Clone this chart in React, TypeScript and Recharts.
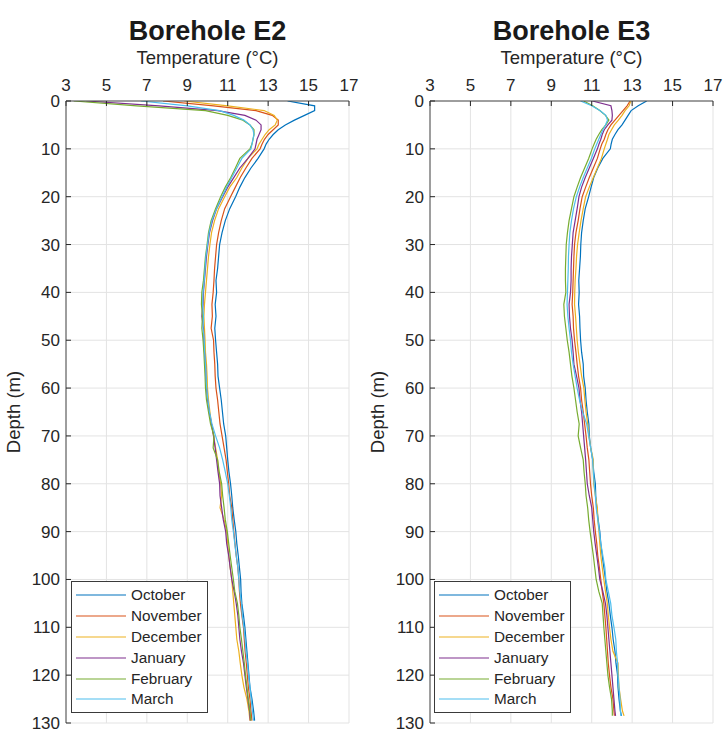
import { LineChart, Line, XAxis, YAxis, CartesianGrid, Legend } from "recharts";

const FONT = '"Liberation Sans", Arial, Helvetica, sans-serif';
const TEXT = "#262626";
const GRID = "#e3e3e3";

const months = ["October", "November", "December", "January", "February", "March"];
const colors = ["#0072BD", "#D95319", "#EDB120", "#7E2F8E", "#77AC30", "#4DBEEE"];
const tempTicks = [3, 5, 7, 9, 11, 13, 15, 17];
const depthTicks = [0, 10, 20, 30, 40, 50, 60, 70, 80, 90, 100, 110, 120, 130];

// depth (m) of each reading
const depthE2 = [
  0, 1, 2, 3, 4, 5, 6, 7, 8, 9, 10,
  12, 14, 16, 18, 20,
  22.5, 25, 27.5, 30, 32.5, 35, 37.5, 40, 42.5, 45, 47.5,
  50, 52.5, 55, 57.5, 60, 62.5, 65, 67.5, 70, 72.5, 75,
  77.5, 80, 82.5, 85, 87.5, 90, 92.5, 95, 97.5, 100, 102.5,
  105, 107.5, 110, 112.5, 115, 117.5, 120, 122.5, 125, 127.5,
  129.5,
];
const depthE3 = [
  0, 1, 2, 3, 4, 5, 6, 7, 8, 9, 10,
  12, 14, 16, 18, 20,
  22.5, 25, 27.5, 30, 32.5, 35, 37.5, 40, 42.5, 45, 47.5,
  50, 52.5, 55, 57.5, 60, 62.5, 65, 67.5, 70, 72.5, 75,
  77.5, 80, 82.5, 85, 87.5, 90, 92.5, 95, 97.5, 100, 102.5,
  105, 107.5, 110, 112.5, 115, 117.5, 120, 122.5, 125, 127.5,
  128.5,
];

// Borehole E2 temperatures (°C)
const e2Oct = [
  13.96, 15.3, 15.3, 14.8, 14.3, 13.85, 13.5, 13.25, 13.05, 12.9, 12.8,
  12.5, 12.15, 11.85, 11.6, 11.39,
  11.1, 10.88, 10.72, 10.6, 10.55, 10.5, 10.42, 10.45, 10.38, 10.42, 10.36,
  10.4, 10.45, 10.5, 10.52, 10.6, 10.68, 10.74, 10.8, 10.9, 10.95, 11.0,
  11.06, 11.14, 11.2, 11.25, 11.32, 11.4, 11.45, 11.52, 11.58, 11.64, 11.66,
  11.7, 11.78, 11.85, 11.9, 11.95, 12.0, 12.05, 12.1, 12.2, 12.28,
  12.33,
];
const e2Nov = [
  7.8, 10.3, 12.4, 13.2, 13.5, 13.5, 13.25, 13.0, 12.82, 12.7, 12.6,
  12.2, 11.9, 11.62, 11.38, 11.14,
  10.85, 10.68, 10.55, 10.45, 10.4, 10.35, 10.32, 10.28, 10.22, 10.24, 10.18,
  10.3, 10.32, 10.36, 10.38, 10.42, 10.5, 10.56, 10.62, 10.72, 10.82, 10.92,
  10.98, 11.05, 11.1, 11.2, 11.25, 11.3, 11.36, 11.42, 11.5, 11.55, 11.58,
  11.63, 11.7, 11.78, 11.82, 11.86, 11.92, 11.97, 12.02, 12.1, 12.15,
  12.2,
];
const e2Dec = [
  8.85, 11.0, 12.8, 13.3, 13.45, 13.35, 13.05, 12.85, 12.7, 12.55, 12.45,
  12.0, 11.7, 11.45, 11.1, 10.85,
  10.55, 10.35, 10.2, 10.12, 10.05, 10.0, 9.95, 9.9, 9.85, 9.82, 9.85,
  9.88, 9.9, 9.95, 9.98, 10.0, 10.05, 10.12, 10.2, 10.3, 10.4, 10.5,
  10.55, 10.65, 10.7, 10.62, 10.82, 10.95, 11.0, 11.05, 11.12, 11.2, 11.25,
  11.3, 11.35, 11.4, 11.45, 11.55, 11.62, 11.7, 11.8, 11.95, 12.05,
  12.1,
];
const e2Jan = [
  4.0, 7.6, 10.5, 11.85, 12.4, 12.65, 12.65, 12.55, 12.45, 12.4, 12.35,
  12.0, 11.6, 11.3, 11.0, 10.75,
  10.45, 10.25, 10.1, 10.02, 9.95, 9.9, 9.85, 9.8, 9.78, 9.72, 9.8,
  9.82, 9.85, 9.9, 9.92, 9.95, 10.0, 10.08, 10.2, 10.3, 10.38, 10.45,
  10.52, 10.6, 10.62, 10.7, 10.78, 10.9, 10.95, 11.05, 11.12, 11.2, 11.32,
  11.42, 11.5, 11.55, 11.6, 11.68, 11.78, 11.85, 11.92, 12.0, 12.08,
  12.12,
];
const e2Feb = [
  3.38, 6.5, 9.9, 11.0, 11.75, 12.1, 12.3, 12.3, 12.25, 12.2, 12.1,
  11.6, 11.38, 11.15, 10.88, 10.65,
  10.4, 10.18, 10.05, 9.98, 9.9, 9.85, 9.8, 9.72, 9.7, 9.75, 9.72,
  9.78, 9.82, 9.85, 9.88, 9.9, 9.95, 10.05, 10.15, 10.32, 10.28, 10.5,
  10.58, 10.7, 10.75, 10.82, 10.88, 10.98, 11.05, 11.12, 11.2, 11.28, 11.35,
  11.48, 11.55, 11.6, 11.68, 11.75, 11.82, 11.88, 11.95, 12.02, 12.1,
  12.15,
];
const e2Mar = [
  6.7, 9.0, 10.6, 11.3, 11.8, 12.1, 12.25, 12.3, 12.25, 12.2, 12.15,
  11.7, 11.45, 11.2, 10.95, 10.72,
  10.45, 10.22, 10.08, 10.0, 9.92, 9.88, 9.84, 9.78, 9.76, 9.8, 9.78,
  9.84, 9.86, 9.9, 9.93, 9.96, 10.02, 10.1, 10.22, 10.4, 10.6, 10.75,
  10.88, 11.0, 11.08, 11.15, 11.2, 11.28, 11.35, 11.42, 11.5, 11.55, 11.6,
  11.68, 11.72, 11.8, 11.86, 11.9, 11.98, 12.03, 12.1, 12.16, 12.22,
  12.28,
];

// Borehole E3 temperatures (°C)
const e3Oct = [
  13.72, 13.3, 12.95, 12.8, 12.65, 12.5, 12.3, 12.15, 12.02, 11.96, 11.92,
  11.55, 11.3, 11.1, 10.97, 10.85,
  10.68, 10.58, 10.5, 10.46, 10.44, 10.4, 10.36, 10.38, 10.35, 10.4, 10.42,
  10.45, 10.5, 10.58, 10.6, 10.68, 10.72, 10.78, 10.86, 10.88, 10.95, 11.05,
  11.1, 11.18, 11.2, 11.25, 11.32, 11.4, 11.45, 11.52, 11.6, 11.68, 11.75,
  11.85, 11.92, 12.0, 12.06, 12.15, 12.2, 12.28, 12.3, 12.35, 12.42,
  12.47,
];
const e3Nov = [
  12.9, 12.75, 12.55, 12.35, 12.15, 11.95, 11.8, 11.7, 11.62, 11.5, 11.42,
  11.28, 11.08, 10.88, 10.7, 10.53,
  10.42, 10.33, 10.22, 10.15, 10.12, 10.1, 10.08, 10.06, 10.03, 10.08, 10.1,
  10.15, 10.22, 10.28, 10.35, 10.45, 10.5, 10.58, 10.65, 10.72, 10.78, 10.86,
  10.9, 10.94, 11.0, 11.08, 11.12, 11.18, 11.25, 11.3, 11.38, 11.45, 11.52,
  11.6, 11.65, 11.7, 11.74, 11.78, 11.82, 11.88, 11.95, 12.05, 12.1,
  12.12,
];
const e3Dec = [
  12.93, 12.85, 12.65, 12.5, 12.32, 12.12, 11.98, 11.85, 11.78, 11.7, 11.62,
  11.48, 11.28, 11.08, 10.88, 10.7,
  10.58, 10.47, 10.38, 10.3, 10.25, 10.22, 10.18, 10.16, 10.15, 10.2, 10.24,
  10.28, 10.34, 10.42, 10.5, 10.61, 10.66, 10.72, 10.8, 10.86, 10.95, 11.08,
  11.08, 11.1, 11.18, 11.28, 11.3, 11.36, 11.4, 11.45, 11.52, 11.6, 11.68,
  11.77, 11.82, 11.88, 11.95, 12.05, 12.3, 12.32, 12.35, 12.43, 12.52,
  12.6,
];
const e3Jan = [
  11.03, 11.95, 12.0, 12.02, 12.0, 11.8, 11.62, 11.52, 11.45, 11.36, 11.28,
  11.08, 10.88, 10.68, 10.5, 10.37,
  10.28, 10.18, 10.08, 10.04, 10.0, 9.98, 9.98, 9.95, 9.88, 9.9, 9.95,
  10.03, 10.08, 10.12, 10.25, 10.37, 10.42, 10.5, 10.55, 10.6, 10.65, 10.7,
  10.74, 10.78, 10.88, 11.0, 11.05, 11.1, 11.17, 11.25, 11.33, 11.4, 11.55,
  11.68, 11.75, 11.8, 11.85, 11.9, 11.95, 12.0, 12.05, 12.1, 12.15,
  12.18,
];
const e3Feb = [
  10.6, 11.05, 11.4, 11.68, 11.85, 11.7, 11.5, 11.35, 11.22, 11.12, 11.02,
  10.85, 10.65, 10.45, 10.28, 10.12,
  10.0, 9.88, 9.8, 9.74, 9.72, 9.7, 9.7, 9.72, 9.62, 9.65, 9.72,
  9.79, 9.88, 9.95, 10.02, 10.12, 10.2, 10.28, 10.38, 10.33, 10.45, 10.58,
  10.62, 10.68, 10.72, 10.8, 10.85, 10.92, 11.0, 11.08, 11.15, 11.22, 11.35,
  11.52, 11.56, 11.6, 11.65, 11.7, 11.75, 11.8, 11.88, 11.98, 12.02,
  12.02,
];
const e3Mar = [
  10.45, 11.0, 11.4, 11.7, 11.78, 11.68, 11.55, 11.45, 11.35, 11.25, 11.15,
  10.98, 10.78, 10.58, 10.4, 10.24,
  10.1, 10.0, 9.92, 9.88, 9.85, 9.84, 9.82, 9.8, 9.78, 9.82, 9.88,
  9.95, 10.0, 10.08, 10.18, 10.28, 10.4, 10.55, 10.75, 10.85, 10.95, 11.05,
  11.08, 11.12, 11.18, 11.22, 11.3, 11.38, 11.45, 11.55, 11.65, 11.7, 11.82,
  11.94, 12.0, 12.1, 12.19, 12.22, 12.28, 12.3, 12.35, 12.4, 12.42,
  12.45,
];

function buildRows(depth: number[], series: number[][]) {
  return depth.map((d, i) => {
    const row: Record<string, number> = { depth: d };
    series.forEach((s, k) => {
      row[months[k]] = s[i];
    });
    return row;
  });
}

const rowsE2 = buildRows(depthE2, [e2Oct, e2Nov, e2Dec, e2Jan, e2Feb, e2Mar]);
const rowsE3 = buildRows(depthE3, [e3Oct, e3Nov, e3Dec, e3Jan, e3Feb, e3Mar]);

const tickStyle = { fill: TEXT, fontSize: 17, fontFamily: FONT };
const axisLine = { stroke: "#4a4a4a", strokeWidth: 1 };
const tickLine = { stroke: TEXT, strokeWidth: 1 };

function BoxLegend({ payload }: any) {
  // keep the series order, not the alphabetical one
  const items = [...(payload ?? [])].sort(
    (a: any, b: any) => months.indexOf(a.value) - months.indexOf(b.value)
  );
  return (
    <div
      style={{
        width: 137,
        boxSizing: "border-box",
        border: "1px solid #3a3a3a",
        background: "#fff",
        padding: "3px 0 2px",
        fontFamily: FONT,
        fontSize: 15.3,
        color: TEXT,
      }}
    >
      {items.map((p: any) => (
        <div key={p.value} style={{ display: "flex", alignItems: "center", height: 20.8 }}>
          <svg width={50} height={4} style={{ marginLeft: 4, marginRight: 5 }}>
            <line x1={0} y1={2} x2={50} y2={2} stroke={p.color} strokeWidth={1.2} />
          </svg>
          <span>{p.value}</span>
        </div>
      ))}
    </div>
  );
}

function Panel({
  left,
  title,
  rows,
  legendLeft,
}: {
  left: number;
  title: string;
  rows: Record<string, number>[];
  legendLeft: number;
}) {
  return (
    <div style={{ position: "absolute", left, top: 0, width: 364, height: 741 }}>
      <div
        style={{
          position: "absolute",
          left: 66,
          width: 283,
          top: 15,
          textAlign: "center",
          fontFamily: FONT,
          fontWeight: "bold",
          fontSize: 27,
          lineHeight: "32px",
          color: "#1a1a1a",
          whiteSpace: "nowrap",
        }}
      >
        {title}
      </div>
      <div
        style={{
          position: "absolute",
          left: 66,
          width: 283,
          top: 47,
          textAlign: "center",
          fontFamily: FONT,
          fontSize: 18.5,
          lineHeight: "22px",
          color: TEXT,
          whiteSpace: "nowrap",
        }}
      >
        Temperature (°C)
      </div>
      <div
        style={{
          position: "absolute",
          left: 14 - 100,
          top: 412 - 11,
          width: 200,
          height: 22,
          textAlign: "center",
          fontFamily: FONT,
          fontSize: 18.5,
          lineHeight: "22px",
          color: TEXT,
          transform: "rotate(-90deg)",
          whiteSpace: "nowrap",
        }}
      >
        Depth (m)
      </div>
      <LineChart
        width={364}
        height={741}
        data={rows}
        layout="vertical"
        margin={{ top: 71, right: 15, bottom: 18, left: 26 }}
      >
        <CartesianGrid stroke={GRID} />
        <XAxis
          type="number"
          orientation="top"
          domain={[3, 17]}
          ticks={tempTicks}
          interval={0}
          allowDataOverflow
          height={30}
          tickSize={-5}
          tickMargin={15}
          axisLine={axisLine}
          tickLine={tickLine}
          tick={tickStyle}
        />
        <XAxis
          xAxisId="b"
          type="number"
          orientation="bottom"
          domain={[3, 17]}
          ticks={tempTicks}
          interval={0}
          allowDataOverflow
          height={0}
          tickSize={-5}
          tickFormatter={() => ""}
          axisLine={axisLine}
          tickLine={tickLine}
        />
        {/* in a vertical layout the depth axis already grows downward */}
        <YAxis
          type="number"
          dataKey="depth"
          domain={[0, 130]}
          ticks={depthTicks}
          interval={0}
          allowDataOverflow
          width={40}
          tickSize={-5}
          tickMargin={11}
          axisLine={axisLine}
          tickLine={tickLine}
          tick={tickStyle}
        />
        <YAxis
          yAxisId="r"
          type="number"
          orientation="right"
          domain={[0, 130]}
          ticks={depthTicks}
          interval={0}
          allowDataOverflow
          width={0}
          tickSize={-5}
          tickFormatter={() => ""}
          axisLine={axisLine}
          tickLine={tickLine}
        />
        {months.map((m, k) => (
          <Line
            key={m}
            dataKey={m}
            name={m}
            stroke={colors[k]}
            strokeWidth={1.2}
            dot={false}
            activeDot={false}
            isAnimationActive={false}
          />
        ))}
        <Legend
          layout="vertical"
          align="center"
          verticalAlign="middle"
          content={<BoxLegend />}
          wrapperStyle={{ left: legendLeft, top: 581, width: 137 }}
        />
      </LineChart>
    </div>
  );
}

export default function App() {
  return (
    <div style={{ position: "absolute", left: 0, top: 0, width: 728, height: 741, background: "#fff" }}>
      <Panel left={0} title="Borehole E2" rows={rowsE2} legendLeft={71} />
      <Panel left={364} title="Borehole E3" rows={rowsE3} legendLeft={70} />
    </div>
  );
}
